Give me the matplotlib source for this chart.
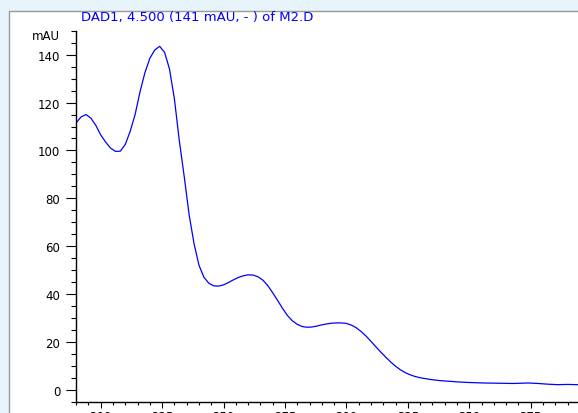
import numpy as np
import matplotlib
matplotlib.use("Agg")
import matplotlib.pyplot as plt
from matplotlib.patches import Rectangle
from matplotlib.ticker import MultipleLocator

plt.rcParams['font.family'] = ['DejaVu Sans']

# UV spectrum (DAD1) of the peak at 4.500 min
wavelength = [190, 192, 194, 196, 198, 200, 202, 204, 206, 208, 210, 212, 214, 216,
              218, 220, 222, 224, 226, 228, 230, 232, 234, 236, 238, 240, 242, 244,
              246, 248, 250, 252, 254, 256, 258, 260, 262, 264, 266, 268, 270, 272,
              274, 276, 278, 280, 282, 284, 286, 288, 290, 292, 294, 296, 298, 300,
              302, 304, 306, 308, 310, 312, 314, 316, 318, 320, 322, 324, 326, 328,
              330, 334, 338, 342, 346, 350, 356, 362, 368, 374, 378, 382, 386, 390,
              394, 400]
absorbance = [111.5, 114.0, 115.0, 113.5, 110.5, 106.5, 103.5, 101.0, 99.6, 99.7,
              102.5, 108.0, 115.0, 124.5, 132.5, 138.5, 142.0, 143.5, 141.0, 134.0,
              121.5, 104.0, 89.0, 73.0, 61.0, 52.0, 47.0, 44.5, 43.4, 43.3,
              43.8, 44.8, 45.9, 46.9, 47.6, 48.0, 47.9, 47.2, 45.8, 43.5,
              40.5, 37.3, 34.0, 31.0, 28.8, 27.3, 26.4, 26.1, 26.2, 26.6,
              27.1, 27.5, 27.8, 27.9, 27.9, 27.7, 27.0, 25.9, 24.3, 22.4,
              20.2, 17.9, 15.7, 13.6, 11.6, 9.8, 8.3, 7.1, 6.2, 5.5,
              5.0, 4.3, 3.8, 3.5, 3.2, 3.0, 2.8, 2.7, 2.6, 2.8,
              2.6, 2.3, 2.1, 2.2, 2.1, 2.0]

title = "DAD1, 4.500 (141 mAU, - ) of M2.D"

W, H = 578, 414
fig = plt.figure(figsize=(W / 100, H / 100), dpi=100)
fig.patch.set_facecolor('#E8F4FC')

# white panel with grey border on left and top
panel = Rectangle((9 / W, -0.01), 1.0, 1 - 12 / H + 0.01,
                  transform=fig.transFigure, facecolor='white',
                  edgecolor='#9A9A9A', linewidth=1.0, zorder=-5)
fig.patches.append(panel)

# axes runs past the right edge of the figure (the 400 nm end is clipped)
x0, x1 = 190, 400
px_per_nm = (530.7 - 100.7) / 175.0
left_px = 100.7 - (200 - x0) * px_per_nm
right_px = 100.7 + (x1 - 200) * px_per_nm
ax = fig.add_axes([left_px / W, (H - 403.3) / H,
                   (right_px - left_px) / W, (403.3 - 31.8) / H])
ax.set_facecolor('none')
ax.set_zorder(2)
ax.plot(wavelength, absorbance, color='#0000FF', linewidth=0.9)

ax.set_xlim(x0, x1)
ax.set_ylim(-5.27, 150)
ax.xaxis.set_major_locator(MultipleLocator(25))
ax.xaxis.set_minor_locator(MultipleLocator(5))
ax.yaxis.set_major_locator(MultipleLocator(20))
ax.yaxis.set_minor_locator(MultipleLocator(5))

for s in ['top', 'right']:
    ax.spines[s].set_visible(False)
for s in ['left', 'bottom']:
    ax.spines[s].set_linewidth(1.0)

ax.tick_params(axis='y', which='major', direction='out', length=7, width=0.8,
               labelsize=8.5, pad=4.5)
ax.tick_params(axis='y', which='minor', direction='out', length=3.6, width=0.8)
ax.tick_params(axis='x', which='major', direction='out', length=4.3, width=0.8,
               labelsize=8.5, pad=1.0)
ax.tick_params(axis='x', which='minor', direction='out', length=2.2, width=0.8)

fig.text(60 / W, 1 - 37 / H, "mAU", ha='right', va='center', fontsize=8.5)
fig.text(81 / W, 1 - 17.7 / H, title, ha='left', va='center', fontsize=9.5,
         color='#0000FF')

fig.savefig("out.png", dpi=100, facecolor=fig.get_facecolor())
